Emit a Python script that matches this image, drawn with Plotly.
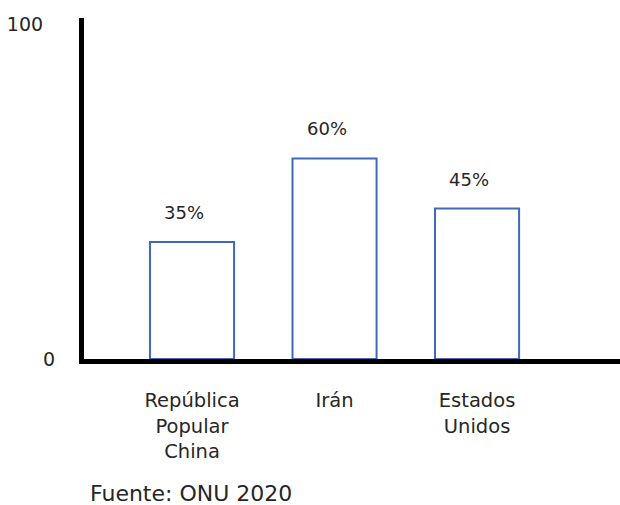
import plotly.graph_objects as go

# Data
paises = ["República<br>Popular<br>China", "Irán", "Estados<br>Unidos"]
porcentajes = [35, 60, 45]
eje_y_ticks = [0, 100]
eje_y_textos = ["0", "100&nbsp;&nbsp;"]
fuente = "Fuente: ONU 2020"

INK = "#262626"

fig = go.Figure(
    go.Bar(
        x=paises,
        y=porcentajes,
        width=0.59,
        marker=dict(color="white", line=dict(color="#4169B8", width=2)),
        hoverinfo="x+y",
    )
)

# Percentage labels above each bar
for pais, valor in zip(paises, porcentajes):
    fig.add_annotation(
        x=pais, y=valor, text=f"{valor}%", showarrow=False,
        yanchor="bottom", yshift=17, xshift=-8,
        font=dict(family="DejaVu Sans", size=18, color=INK),
    )

# Source note under the chart
fig.add_annotation(
    xref="paper", yref="paper", x=0.008, y=-0.393,
    xanchor="left", yanchor="middle", showarrow=False,
    text=fuente, font=dict(family="DejaVu Sans", size=22, color=INK),
)

fig.update_layout(
    width=620, height=505,
    margin=dict(l=84, r=0, t=18, b=146),
    paper_bgcolor="white", plot_bgcolor="white",
    showlegend=False,
    font=dict(family="DejaVu Sans", size=18, color=INK),
    xaxis=dict(
        type="category", range=[-0.758, 3.003],
        showline=True, linecolor="black", linewidth=5,
        showgrid=False, ticks="", ticklabelstandoff=20,
        tickfont=dict(family="DejaVu Sans", size=19.5, color=INK),
    ),
    yaxis=dict(
        range=[0, 102], tickvals=eje_y_ticks, ticktext=eje_y_textos,
        showline=True, linecolor="black", linewidth=5,
        showgrid=False, zeroline=False, ticks="", ticklabelstandoff=20,
        tickfont=dict(family="DejaVu Sans", size=19, color=INK),
    ),
)

fig.write_html("out.html")
